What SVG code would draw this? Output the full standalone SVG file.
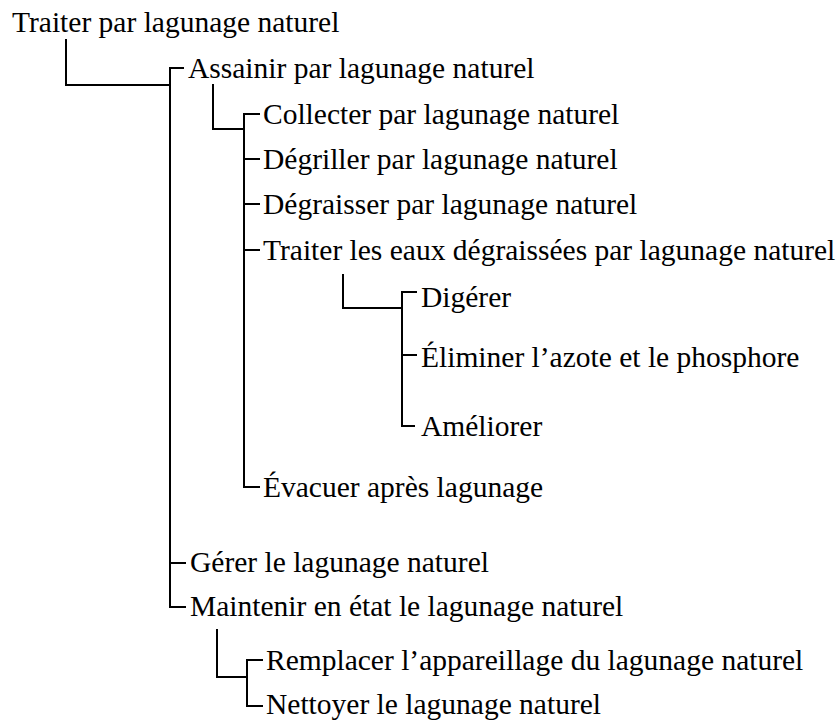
<svg xmlns="http://www.w3.org/2000/svg" width="838" height="721" viewBox="0 0 838 721">
<style>
text{font-family:"Liberation Serif","Times New Roman",serif;font-size:29.5px;fill:#000}
.c path{fill:none;stroke:#000;stroke-width:2}
</style>
<rect width="838" height="721" fill="#fff"/>
<g class="c" id="connectors">
<path d="M66,39 V85 H170"/>
<path d="M184,68 H170 V607 H186"/>
<path d="M170,563 H186"/>
<path d="M213,84 V129 H244"/>
<path d="M260,114 H244 V487 H260"/>
<path d="M244,159 H260"/>
<path d="M244,204 H260"/>
<path d="M244,250 H260"/>
<path d="M343,274 V308 H402"/>
<path d="M417,292 H402 V426 H415"/>
<path d="M402,355 H417"/>
<path d="M217,629 V677 H247"/>
<path d="M263,660 H247 V706 H263"/>
</g>
<g id="n0"><text x="12" y="32">Traiter par lagunage naturel</text></g>
<g id="n1"><text x="188" y="78">Assainir par lagunage naturel</text></g>
<g id="n2"><text x="263" y="124">Collecter par lagunage naturel</text></g>
<g id="n3"><text x="263" y="169">Dégriller par lagunage naturel</text></g>
<g id="n4"><text x="263" y="214">Dégraisser par lagunage naturel</text></g>
<g id="n5"><text x="263" y="260">Traiter les eaux dégraissées par lagunage naturel</text></g>
<g id="n6"><text x="421" y="307">Digérer</text></g>
<g id="n7"><text x="421" y="367">Éliminer l’azote et le phosphore</text></g>
<g id="n8"><text x="421" y="436">Améliorer</text></g>
<g id="n9"><text x="263" y="497">Évacuer après lagunage</text></g>
<g id="n10"><text x="190" y="572">Gérer le lagunage naturel</text></g>
<g id="n11"><text x="190" y="616">Maintenir en état le lagunage naturel</text></g>
<g id="n12"><text x="266" y="670">Remplacer l’appareillage du lagunage naturel</text></g>
<g id="n13"><text x="266" y="714">Nettoyer le lagunage naturel</text></g>
</svg>
